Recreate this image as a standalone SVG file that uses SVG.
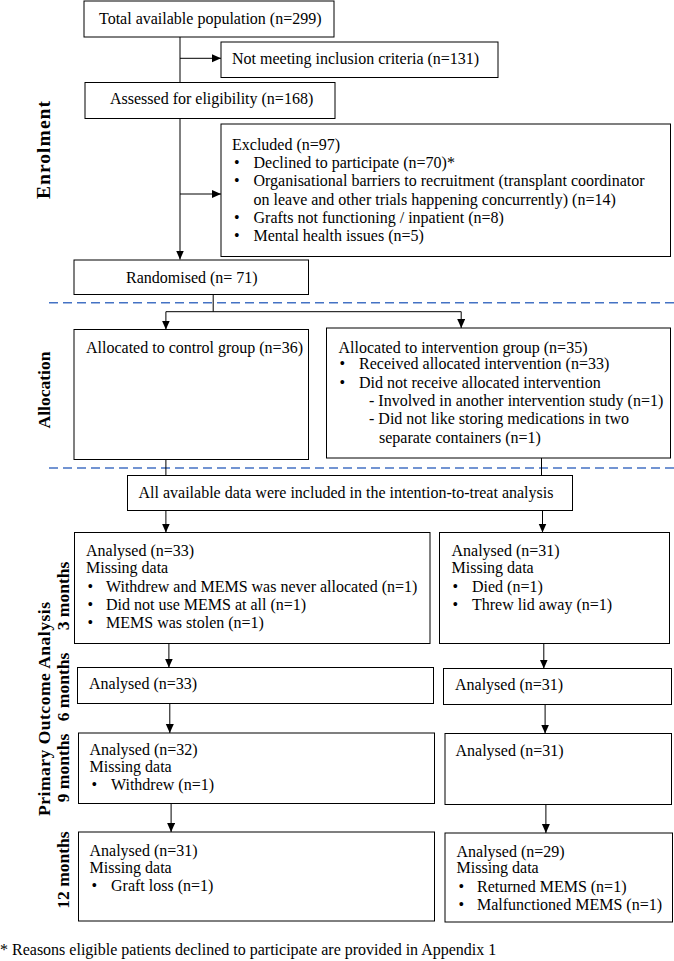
<svg xmlns="http://www.w3.org/2000/svg" width="674" height="961" viewBox="0 0 674 961">
<style>
  rect.box { fill: #fff; stroke: #000; stroke-width: 1; }
  text { font-family: "Liberation Serif", "Times New Roman", serif; font-size: 16px; fill: #000; }
  text.lab { font-weight: bold; font-size: 17.5px; text-anchor: middle; }
  .conn line, .conn path { stroke: #000; stroke-width: 1; fill: none; }
  .dash { stroke: #4472C4; stroke-width: 1.5; stroke-dasharray: 9 5; fill: none; }
</style>
<defs>
  <marker id="ah" markerUnits="userSpaceOnUse" markerWidth="10" markerHeight="9" refX="9" refY="4" orient="auto">
    <path d="M0,0 L9,4 L0,8 z" fill="#000"/>
  </marker>
</defs>
<rect width="674" height="961" fill="#fff"/>

<!-- phase separators -->
<line class="dash" x1="49" y1="302.7" x2="674" y2="302.7"/>
<line class="dash" x1="49" y1="468" x2="674" y2="468"/>

<!-- side labels -->
<g id="labels">
  <text class="lab" transform="translate(50,150) rotate(-90)" style="font-size:19.5px" textLength="98" lengthAdjust="spacing">Enrolment</text>
  <text class="lab" transform="translate(50,390) rotate(-90)">Allocation</text>
  <text class="lab" transform="translate(50,709) rotate(-90)" textLength="214" lengthAdjust="spacing">Primary Outcome Analysis</text>
  <text class="lab" transform="translate(69,596) rotate(-90)">3 months</text>
  <text class="lab" transform="translate(69,687) rotate(-90)">6 months</text>
  <text class="lab" transform="translate(69,768) rotate(-90)">9 months</text>
  <text class="lab" transform="translate(69,870) rotate(-90)">12 months</text>
</g>

<!-- connectors -->
<g class="conn" id="connectors">
  <line x1="180" y1="37" x2="180" y2="259.5" marker-end="url(#ah)"/>
  <line x1="180" y1="58.3" x2="221" y2="58.3" marker-end="url(#ah)"/>
  <line x1="180" y1="194" x2="221" y2="194" marker-end="url(#ah)"/>
  <line x1="213.2" y1="294.5" x2="213.2" y2="311.7"/>
  <line x1="165.9" y1="311.7" x2="461.2" y2="311.7"/>
  <line x1="165.9" y1="311.7" x2="165.9" y2="329.5" marker-end="url(#ah)"/>
  <line x1="461.2" y1="311.7" x2="461.2" y2="328" marker-end="url(#ah)"/>
  <line x1="165.9" y1="459.5" x2="165.9" y2="475.5"/>
  <line x1="541.5" y1="458" x2="541.5" y2="475.5"/>
  <line x1="165.9" y1="510.5" x2="165.9" y2="532.5" marker-end="url(#ah)"/>
  <line x1="542.5" y1="510.5" x2="542.5" y2="532.5" marker-end="url(#ah)"/>
  <line x1="168.9" y1="643.5" x2="168.9" y2="667.5" marker-end="url(#ah)"/>
  <line x1="543.8" y1="643.5" x2="543.8" y2="668.5" marker-end="url(#ah)"/>
  <line x1="169.8" y1="703.5" x2="169.8" y2="733" marker-end="url(#ah)"/>
  <line x1="545.1" y1="704.5" x2="545.1" y2="733.5" marker-end="url(#ah)"/>
  <line x1="171.1" y1="803.5" x2="171.1" y2="832" marker-end="url(#ah)"/>
  <line x1="545.9" y1="804.5" x2="545.9" y2="833" marker-end="url(#ah)"/>
</g>

<g id="total">
  <rect class="box" x="84" y="1" width="250" height="36"/>
  <text x="99" y="23.5">Total available population (n=299)</text>
</g>
<g id="notmeeting">
  <rect class="box" x="221" y="42" width="277" height="35.5"/>
  <text x="232" y="64">Not meeting inclusion criteria (n=131)</text>
</g>
<g id="assessed">
  <rect class="box" x="85" y="82.5" width="250" height="36"/>
  <text x="110" y="104">Assessed for eligibility (n=168)</text>
</g>
<g id="excluded">
  <rect class="box" x="221" y="124" width="449.5" height="132.5"/>
  <text x="232" y="150">Excluded (n=97)</text>
  <text x="234" y="168">•</text><text x="253.5" y="168">Declined to participate (n=70)*</text>
  <text x="234" y="186">•</text><text x="253.5" y="186">Organisational barriers to recruitment (transplant coordinator</text>
  <text x="253.5" y="204.5">on leave and other trials happening concurrently) (n=14)</text>
  <text x="234" y="223">•</text><text x="253.5" y="223">Grafts not functioning / inpatient (n=8)</text>
  <text x="234" y="241">•</text><text x="253.5" y="241">Mental health issues (n=5)</text>
</g>
<g id="randomised">
  <rect class="box" x="74" y="260" width="234.5" height="34.5"/>
  <text x="126" y="282.5">Randomised (n= 71)</text>
</g>
<g id="control">
  <rect class="box" x="74" y="329.5" width="234.5" height="130"/>
  <text x="86" y="352.5">Allocated to control group (n=36)</text>
</g>
<g id="intervention">
  <rect class="box" x="326.5" y="328" width="344" height="130"/>
  <text x="338.5" y="352.5">Allocated to intervention group (n=35)</text>
  <text x="339.5" y="369">•</text><text x="359" y="369">Received allocated intervention (n=33)</text>
  <text x="339.5" y="387.5">•</text><text x="359" y="387.5">Did not receive allocated intervention</text>
  <text x="369" y="405.5">- Involved in another intervention study (n=1)</text>
  <text x="369" y="424">- Did not like storing medications in two</text>
  <text x="379" y="442.5">separate containers (n=1)</text>
</g>
<g id="itt">
  <rect class="box" x="127.5" y="475.5" width="445" height="35"/>
  <text x="138.5" y="497.5">All available data were included in the intention-to-treat analysis</text>
</g>
<g id="m3control">
  <rect class="box" x="74.5" y="532.5" width="355.5" height="111"/>
  <text x="86" y="555.5">Analysed (n=33)</text>
  <text x="86" y="573">Missing data</text>
  <text x="87.5" y="591.5">•</text><text x="106" y="591.5">Withdrew and MEMS was never allocated (n=1)</text>
  <text x="87.5" y="609.5">•</text><text x="106" y="609.5">Did not use MEMS at all (n=1)</text>
  <text x="87.5" y="627.5">•</text><text x="106" y="627.5">MEMS was stolen (n=1)</text>
</g>
<g id="m3intervention">
  <rect class="box" x="439.5" y="532.5" width="230" height="111"/>
  <text x="451.5" y="555.5">Analysed (n=31)</text>
  <text x="451.5" y="573">Missing data</text>
  <text x="452.5" y="591.5">•</text><text x="472" y="591.5">Died (n=1)</text>
  <text x="452.5" y="609.5">•</text><text x="472" y="609.5">Threw lid away (n=1)</text>
</g>
<g id="m6control">
  <rect class="box" x="77.5" y="667.5" width="356" height="36"/>
  <text x="89" y="689">Analysed (n=33)</text>
</g>
<g id="m6intervention">
  <rect class="box" x="443.5" y="668.5" width="228" height="36"/>
  <text x="455" y="690">Analysed (n=31)</text>
</g>
<g id="m9control">
  <rect class="box" x="78.5" y="733" width="356" height="70.5"/>
  <text x="89.5" y="754.5">Analysed (n=32)</text>
  <text x="89.5" y="771.5">Missing data</text>
  <text x="91.5" y="790">•</text><text x="111" y="790">Withdrew (n=1)</text>
</g>
<g id="m9intervention">
  <rect class="box" x="445" y="733.5" width="226.5" height="71"/>
  <text x="455.5" y="755.5">Analysed (n=31)</text>
</g>
<g id="m12control">
  <rect class="box" x="78.5" y="832" width="356" height="89"/>
  <text x="89.5" y="855.5">Analysed (n=31)</text>
  <text x="89.5" y="872.5">Missing data</text>
  <text x="91.5" y="890.5">•</text><text x="111" y="890.5">Graft loss (n=1)</text>
</g>
<g id="m12intervention">
  <rect class="box" x="445" y="833" width="227.5" height="89"/>
  <text x="456.5" y="856.5">Analysed (n=29)</text>
  <text x="456.5" y="873">Missing data</text>
  <text x="458.5" y="891.5">•</text><text x="477" y="891.5">Returned MEMS (n=1)</text>
  <text x="458.5" y="910">•</text><text x="477" y="910">Malfunctioned MEMS (n=1)</text>
</g>
<text x="0" y="955">* Reasons eligible patients declined to participate are provided in Appendix 1</text>
</svg>
